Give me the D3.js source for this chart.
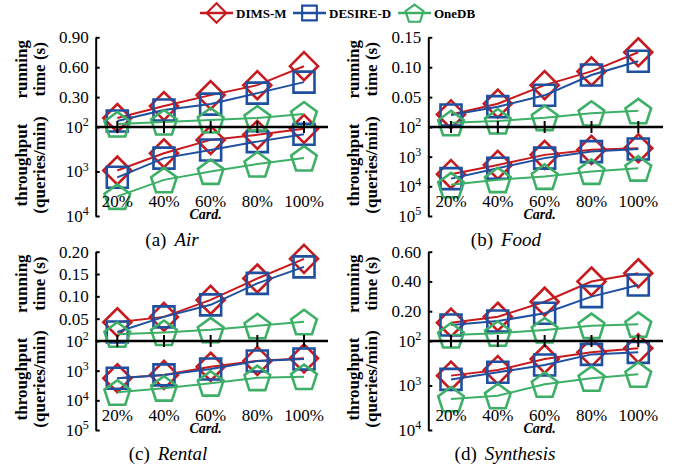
<!DOCTYPE html>
<html><head><meta charset="utf-8">
<script src="https://cdn.jsdelivr.net/npm/d3@7"></script>
<style>body{margin:0;background:#fff} text{font-family:"Liberation Serif","Times New Roman","DejaVu Serif",serif;fill:#000}</style>
</head><body><svg id="c" width="674" height="465"></svg>
<script>
// ---------- data ----------
const categories = ["20%", "40%", "60%", "80%", "100%"];
const seriesNames = ["DIMS-M", "DESIRE-D", "OneDB"];
const seriesColors = ["#c8191c", "#1f4f9f", "#3daf66"];

// running time (s): rows = DIMS-M, DESIRE-D, OneDB
const airTime = [[0.09, 0.21, 0.32, 0.42, 0.61], [0.06, 0.17, 0.23, 0.34, 0.45], [0.03, 0.05, 0.07, 0.09, 0.13]];
const foodTime = [[0.021, 0.039, 0.070, 0.093, 0.125], [0.020, 0.034, 0.053, 0.087, 0.110], [0.007, 0.010, 0.0155, 0.023, 0.027]];
const rentalTime = [[0.042, 0.054, 0.092, 0.140, 0.184], [0.020, 0.054, 0.081, 0.129, 0.166], [0.015, 0.019, 0.025, 0.034, 0.043]];
const synthTime = [[0.123, 0.163, 0.264, 0.40, 0.455], [0.108, 0.134, 0.186, 0.298, 0.376], [0.040, 0.052, 0.074, 0.103, 0.112]];

// throughput (queries/min)
const airThr = [[950, 390, 195, 150, 110], [1350, 500, 330, 213, 146], [3630, 1540, 1000, 680, 500]];
const foodThr = [[3900, 1900, 870, 590, 520], [5500, 2450, 1120, 675, 550], [8900, 6000, 4650, 3150, 2450]];
const rentalThr = [[1800, 1390, 740, 470, 385], [1800, 1390, 880, 470, 405], [5350, 3900, 2650, 1730, 1590]];
const synthThr = [[600, 450, 254, 180, 146], [730, 505, 345, 200, 180], [2000, 1700, 940, 690, 560]];

// tick values
const airTimeTicks = [0.30, 0.60, 0.90];
const foodTimeTicks = [0.05, 0.10, 0.15];
const rentalTimeTicks = [0.05, 0.10, 0.15, 0.20];
const synthTimeTicks = [0.20, 0.40, 0.60];
const thrTicks2 = [1e2, 1e3, 1e4];
const thrTicks3 = [1e2, 1e3, 1e4, 1e5];

const panelTitles = [["(a)", "Air"], ["(b)", "Food"], ["(c)", "Rental"], ["(d)", "Synthesis"]];

// ---------- drawing ----------
const FONT = "Liberation Serif, Times New Roman, DejaVu Serif, serif";
const svg = d3.select("#c");

function markerPath(i) {
  if (i === 0) return "M0,-14L14,0L0,14L-14,0Z";
  if (i === 1) return "M-10.5,-10.5H10.5V10.5H-10.5Z";
  const r = 13.5;
  const pts = d3.range(5).map(k => {
    const a = -Math.PI / 2 + k * 2 * Math.PI / 5;
    return [r * Math.cos(a), r * Math.sin(a) + 1.5];
  });
  return "M" + pts.map(p => p.join(",")).join("L") + "Z";
}

function drawPanel(p) {
  const g = svg.append("g");
  const x = d3.scalePoint().domain(categories).range([p.x1, p.x2]);
  const yT = d3.scaleLinear().domain([0, p.tMax]).range([p.split, p.top]);
  const yB = d3.scaleLog().domain([1e2, p.bMax]).range([p.split, p.bottom]);

  const aT = g.append("g").attr("transform", `translate(${p.ax},0)`)
    .call(d3.axisLeft(yT).tickValues(p.tTicks).tickSize(-4).tickSizeOuter(0).tickPadding(7).tickFormat(d3.format(".2f")));
  const aB = g.append("g").attr("transform", `translate(${p.ax},0)`)
    .call(d3.axisLeft(yB).tickValues(p.bTicks).tickSize(-4).tickSizeOuter(0).tickPadding(7).tickFormat(() => ""));
  [aT, aB].forEach(a => {
    a.attr("font-family", FONT);
    a.select(".domain").attr("stroke", "#000").attr("stroke-width", 2);
    a.selectAll(".tick line").attr("stroke", "#000").attr("stroke-width", 2);
    a.selectAll("text").attr("font-size", 17).attr("font-family", FONT).attr("fill", "#000");
  });
  aB.selectAll(".tick text").each(function (d) {
    const t = d3.select(this);
    t.append("tspan").text("10");
    t.append("tspan").attr("font-size", 12).attr("dy", "-0.55em").text(Math.round(Math.log10(d)));
  });

  const tData = p.tData, bData = p.bData;
  seriesNames.forEach((s, i) => {
    const c = seriesColors[i];
    const lt = d3.line().x((d, j) => x(categories[j])).y(d => yT(d));
    const lb = d3.line().x((d, j) => x(categories[j])).y(d => yB(d));
    g.append("path").attr("d", lt(tData[i])).attr("fill", "none").attr("stroke", c).attr("stroke-width", 2);
    g.append("path").attr("d", lb(bData[i])).attr("fill", "none").attr("stroke", c).attr("stroke-width", 2);
    const pts = tData[i].map((v, j) => [x(categories[j]), yT(v)])
      .concat(bData[i].map((v, j) => [x(categories[j]), yB(v)]));
    g.selectAll(null).data(pts).enter().append("path")
      .attr("transform", d => `translate(${d[0]},${d[1]})`)
      .attr("d", markerPath(i)).attr("fill", "none").attr("stroke", c).attr("stroke-width", 2.6);
  });

  g.append("line").attr("x1", p.ax).attr("x2", p.lineEnd).attr("y1", p.split).attr("y2", p.split)
    .attr("stroke", "#000").attr("stroke-width", 2.4);
  g.selectAll(null).data(categories).enter().append("line")
    .attr("x1", d => x(d)).attr("x2", d => x(d)).attr("y1", p.split - 6).attr("y2", p.split + 6)
    .attr("stroke", "#000").attr("stroke-width", 2);

  g.selectAll(null).data(categories).enter().append("text")
    .attr("x", d => x(d)).attr("y", p.bottom - 9).attr("text-anchor", "middle")
    .attr("font-family", FONT).attr("font-size", 17).text(d => d);
  g.append("text").attr("x", x("60%") - 5).attr("y", p.bottom + 3).attr("text-anchor", "middle")
    .attr("font-family", FONT).attr("font-size", 14).attr("font-weight", "bold").attr("font-style", "italic").text("Card.");

  const lab = (txt, cx, cy) => g.append("text").attr("transform", `translate(${cx},${cy}) rotate(-90)`)
    .attr("dy", "0.35em").attr("text-anchor", "middle").attr("font-family", FONT)
    .attr("font-size", 17).attr("font-weight", "bold").text(txt);
  const cyT = p.top + 32, cyB = p.split + 38;
  lab("running", p.ax - 75, cyT);
  lab("time (s)", p.ax - 57, cyT);
  lab("throughput", p.ax - 75, cyB);
  lab("(queries/min)", p.ax - 57, cyB);

  const st = g.append("text").attr("x", p.titleX).attr("y", p.titleY).attr("text-anchor", "middle")
    .attr("font-family", FONT).attr("font-size", 19);
  st.append("tspan").text(p.title[0]);
  st.append("tspan").attr("dx", 8).attr("font-style", "italic").text(p.title[1]);
}

const panels = [
  { ax: 95.7, top: 37.3, split: 127, bottom: 216, x1: 117.3, x2: 304, lineEnd: 328, tMax: 0.9, bMax: 1e4,
    tTicks: airTimeTicks, bTicks: thrTicks2, tData: airTime, bData: airThr, title: panelTitles[0], titleX: 172, titleY: 246 },
  { ax: 428.3, top: 37.3, split: 127, bottom: 216, x1: 451, x2: 638.3, lineEnd: 663, tMax: 0.15, bMax: 1e5,
    tTicks: foodTimeTicks, bTicks: thrTicks3, tData: foodTime, bData: foodThr, title: panelTitles[1], titleX: 506, titleY: 246 },
  { ax: 95.7, top: 251.7, split: 341, bottom: 430, x1: 117.3, x2: 304, lineEnd: 328, tMax: 0.2, bMax: 1e5,
    tTicks: rentalTimeTicks, bTicks: thrTicks3, tData: rentalTime, bData: rentalThr, title: panelTitles[2], titleX: 168, titleY: 460 },
  { ax: 428.3, top: 251.7, split: 341, bottom: 430, x1: 451, x2: 638.3, lineEnd: 663, tMax: 0.6, bMax: 1e4,
    tTicks: synthTimeTicks, bTicks: thrTicks2, tData: synthTime, bData: synthThr, title: panelTitles[3], titleX: 505, titleY: 460 }
];
panels.forEach(drawPanel);

// legend
const legX = [200, 293, 398];
const leg = svg.append("g");
seriesNames.forEach((s, i) => {
  const gx = legX[i], gy = 13;
  leg.append("line").attr("x1", gx).attr("x2", gx + 33).attr("y1", gy).attr("y2", gy)
    .attr("stroke", seriesColors[i]).attr("stroke-width", 2.4);
  leg.append("path").attr("transform", `translate(${gx + 16.5},${gy}) scale(0.7)`).attr("d", markerPath(i))
    .attr("fill", "none").attr("stroke", seriesColors[i]).attr("stroke-width", 3);
  leg.append("text").attr("x", gx + 36).attr("y", gy + 5).attr("font-family", FONT)
    .attr("font-size", 13).attr("font-weight", "bold").text(s);
});
</script></body></html>
